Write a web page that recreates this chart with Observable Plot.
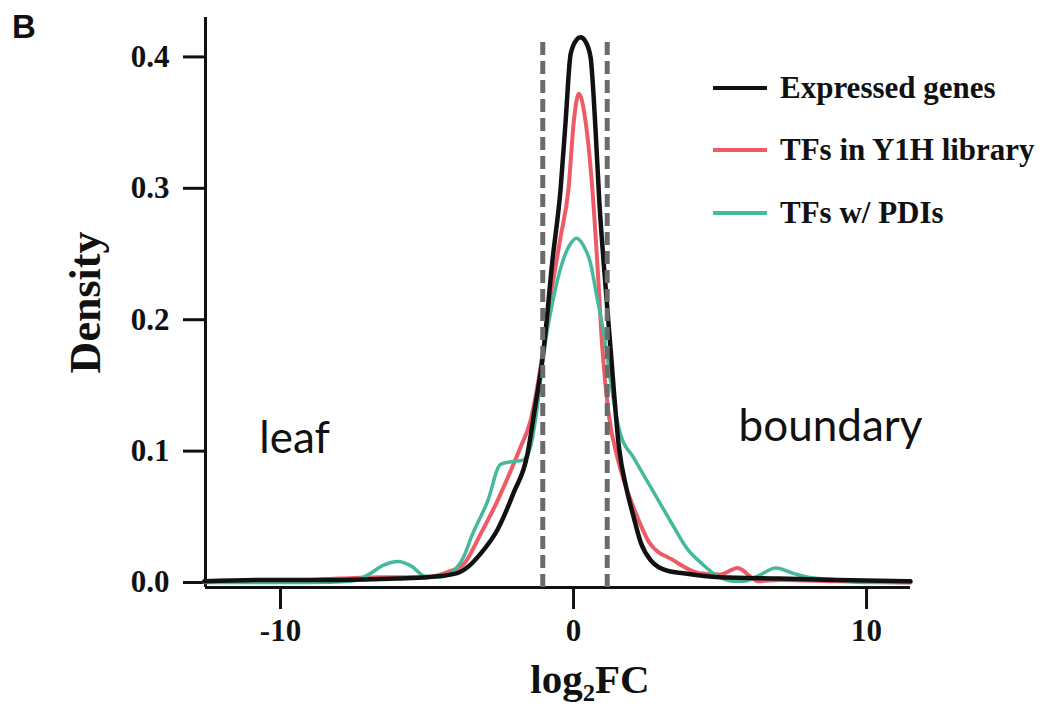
<!DOCTYPE html>
<html><head><meta charset="utf-8">
<script src="https://cdn.jsdelivr.net/npm/d3@7"></script>
<script src="https://cdn.jsdelivr.net/npm/@observablehq/plot@0.6"></script>
<style>
body{margin:0;background:#fff;}
#wrap{position:relative;width:1060px;height:713px;overflow:hidden;}
.panel{position:absolute;left:12px;top:8px;font-family:"Liberation Sans",Arial,sans-serif;font-weight:bold;font-size:33px;color:#111;}
.lg{position:absolute;left:713px;height:40px;display:flex;align-items:center;font-family:"Liberation Serif","Times New Roman",serif;font-weight:bold;font-size:31px;color:#111;white-space:nowrap;}
.lg .sw{width:54px;height:4px;margin-right:13px;}
</style></head>
<body><div id="wrap"></div>
<script>
// ---- data ----
const seriesNames = ["Expressed genes", "TFs in Y1H library", "TFs w/ PDIs"];
const seriesColors = ["#111111", "#ee5b66", "#45b99c"];

const expressedX = [-12.6, -10, -8, -6, -5, -4, -3.6, -3.17, -2.6, -2.05, -1.57, -1.35, -1.01, -0.73, -0.44, -0.27, -0.1, 0.1, 0.24, 0.4, 0.58, 0.75, 0.88, 1.03, 1.26, 1.55, 1.8, 2.05, 2.3, 2.63, 3.2, 3.75, 5, 7, 9, 11.5];
const expressedY = [0.001, 0.002, 0.002, 0.003, 0.004, 0.007, 0.012, 0.022, 0.04, 0.068, 0.098, 0.128, 0.179, 0.243, 0.3, 0.351, 0.402, 0.413, 0.415, 0.412, 0.4, 0.345, 0.29, 0.243, 0.179, 0.103, 0.072, 0.05, 0.03, 0.017, 0.009, 0.007, 0.004, 0.003, 0.002, 0.001];

const libraryX = [-12.6, -10, -8, -6.5, -5, -4.3, -3.75, -3.17, -2.6, -2.05, -1.81, -1.47, -1.13, -0.8, -0.45, -0.17, 0.01, 0.18, 0.41, 0.64, 0.82, 0.98, 1.2, 1.5, 1.8, 2.05, 2.6, 3.4, 4.3, 5.0, 5.6, 6.3, 7, 9, 11.5];
const libraryY = [0.0005, 0.001, 0.003, 0.004, 0.004, 0.008, 0.014, 0.037, 0.062, 0.09, 0.103, 0.123, 0.163, 0.215, 0.262, 0.3, 0.351, 0.372, 0.351, 0.3, 0.24, 0.179, 0.128, 0.095, 0.072, 0.057, 0.03, 0.017, 0.007, 0.006, 0.011, 0.001, 0.002, 0.001, 0.0];

const pdiX = [-12.6, -9, -7.6, -7.0, -6.5, -6.0, -5.5, -5.1, -4.6, -4.0, -3.7, -3.5, -2.93, -2.49, -2.1, -1.74, -1.47, -1.2, -1.02, -0.68, -0.39, -0.1, 0.1, 0.35, 0.58, 0.8, 1.03, 1.26, 1.45, 1.6, 2.05, 2.65, 3.3, 3.9, 4.4, 4.9, 5.5, 5.8, 6.3, 6.9, 7.5, 8, 9, 10, 11.5];
const pdiY = [0, 0, 0.001, 0.006, 0.013, 0.016, 0.012, 0.005, 0.004, 0.011, 0.022, 0.034, 0.062, 0.09, 0.092, 0.093, 0.103, 0.14, 0.174, 0.217, 0.243, 0.258, 0.262, 0.256, 0.243, 0.217, 0.19, 0.154, 0.128, 0.113, 0.095, 0.072, 0.047, 0.025, 0.014, 0.005, 0.001, 0.001, 0.005, 0.011, 0.007, 0.004, 0.002, 0.0, 0];

const thresholds = [-1.05, 1.15];
const thresholdTop = 0.415;
const xTicks = [-10, 0, 10];
const yTicks = [0, 0.1, 0.2, 0.3, 0.4];
const xDomain = [-12.56, 11.5];
const yDomain = [-0.0038, 0.43];
const regionLabels = ["leaf", "boundary"];
const regionX = [-9.52, 8.77];
const regionY = [0.1096, 0.1187];

// ---- build tables ----
const toRows = (xs, ys, name) => xs.map((x, i) => ({x, y: ys[i], series: name}));
const expressed = toRows(expressedX, expressedY, seriesNames[0]);
const library = toRows(libraryX, libraryY, seriesNames[1]);
const pdi = toRows(pdiX, pdiY, seriesNames[2]);
const regions = regionLabels.map((label, i) => ({label, x: regionX[i], y: regionY[i]}));

const serif = '"Liberation Serif","Times New Roman",serif';

const chart = Plot.plot({
  width: 1060,
  height: 713,
  marginLeft: 205,
  marginRight: 150,
  marginTop: 17,
  marginBottom: 126,
  style: {fontFamily: serif, fontWeight: "bold", fontSize: "31px", color: "#111", background: "#fff"},
  x: {domain: xDomain},
  y: {domain: yDomain},
  marks: [
    Plot.ruleX([xDomain[0]], {strokeWidth: 3, stroke: "#111"}),
    Plot.ruleY([yDomain[0]], {strokeWidth: 3, stroke: "#111"}),
    Plot.axisX({ticks: xTicks, tickSize: 22, tickPadding: 9, strokeWidth: 3, label: null, fontSize: 31, fontWeight: "bold", tickFormat: d => String(d).replace("\u2212", "-")}),
    Plot.axisY({ticks: yTicks, tickSize: 22, tickPadding: 14, strokeWidth: 3, label: null, fontSize: 31, fontWeight: "bold", tickFormat: d3.format(".1f")}),
    Plot.line(library, {x: "x", y: "y", stroke: seriesColors[1], strokeWidth: 4, curve: "monotone-x"}),
    Plot.line(pdi, {x: "x", y: "y", stroke: seriesColors[2], strokeWidth: 3.5, curve: "monotone-x"}),
    Plot.line(expressed, {x: "x", y: "y", stroke: seriesColors[0], strokeWidth: 4.5, curve: "monotone-x"}),
    Plot.ruleX(thresholds, {y1: yDomain[0], y2: thresholdTop, stroke: "#6b6b6b", strokeWidth: 5, strokeDasharray: "13,6"}),
    Plot.text(regions, {x: "x", y: "y", text: "label", fontFamily: "Lato, 'Open Sans', sans-serif", fontWeight: "normal", fontSize: 44, fill: "#111", lineAnchor: "middle"}),
    Plot.text(["Density"], {text: d => d, frameAnchor: "left", textAnchor: "middle", rotate: -90, dx: -120, lineAnchor: "middle", fontSize: 44, fontWeight: "bold", fontFamily: serif}),
    Plot.text(["log\u2082FC"], {text: d => d, frameAnchor: "bottom", dx: 32, dy: 92, lineAnchor: "middle", fontSize: 41, fontWeight: "bold", fontFamily: serif})
  ]
});

const wrap = document.getElementById("wrap");
wrap.appendChild(chart);

const panel = document.createElement("div");
panel.className = "panel";
panel.textContent = "B";
wrap.appendChild(panel);

const legendY = [88, 150, 213];
seriesNames.forEach((name, i) => {
  const row = document.createElement("div");
  row.className = "lg";
  row.style.top = (legendY[i] - 20) + "px";
  const sw = document.createElement("span");
  sw.className = "sw";
  sw.style.background = seriesColors[i];
  const t = document.createElement("span");
  t.textContent = name;
  row.appendChild(sw);
  row.appendChild(t);
  wrap.appendChild(row);
});
</script>
</body></html>
